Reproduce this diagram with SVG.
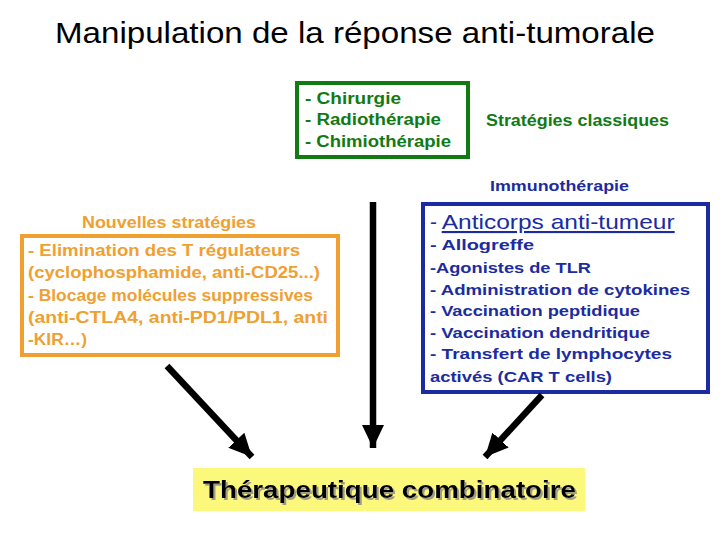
<svg xmlns="http://www.w3.org/2000/svg" width="720" height="540" viewBox="0 0 720 540">
<style>
text{font-family:"Liberation Sans",Arial,sans-serif;}
.t{font-size:30px;fill:#000;}
.g{font-size:16px;font-weight:bold;fill:#127a12;}
.o{font-size:16px;font-weight:bold;fill:#f0a030;}
.b{font-size:15.5px;font-weight:bold;fill:#1c2ca0;}
.bl{font-size:21px;fill:#1c2ca0;}
.y{font-size:24px;font-weight:bold;fill:#000;filter:url(#sh);}
.conn{stroke:#000;stroke-width:6.5;fill:none;marker-end:url(#ah);}
</style>
<defs>
<marker id="ah" markerUnits="userSpaceOnUse" markerWidth="26" markerHeight="26" viewBox="0 0 26 26" refX="23" refY="13" orient="auto">
<path d="M0,2 L23,13 L0,24 Z" fill="#000"/>
</marker>
<filter id="sh" x="-5%" y="-20%" width="110%" height="150%">
<feDropShadow dx="2" dy="2" stdDeviation="0.6" flood-color="#888" flood-opacity="0.8"/>
</filter>
</defs>
<rect width="720" height="540" fill="#fff"/>
<g id="title">
<text class="t" x="55" y="43" textLength="600" lengthAdjust="spacingAndGlyphs">Manipulation de la réponse anti-tumorale</text>
</g>
<g id="classique">
<rect x="297" y="83" width="171" height="74" fill="none" stroke="#127a12" stroke-width="4"/>
<text class="g" x="305" y="104" textLength="96" lengthAdjust="spacingAndGlyphs">- Chirurgie</text>
<text class="g" x="305" y="125" textLength="136" lengthAdjust="spacingAndGlyphs">- Radiothérapie</text>
<text class="g" x="305" y="147" textLength="146" lengthAdjust="spacingAndGlyphs">- Chimiothérapie</text>
</g>
<g id="label-classiques">
<text class="g" x="486" y="126" textLength="183" lengthAdjust="spacingAndGlyphs">Stratégies classiques</text>
</g>
<g id="label-immuno">
<text class="b" x="490" y="191" textLength="139" lengthAdjust="spacingAndGlyphs">Immunothérapie</text>
</g>
<g id="nouvelles">
<text class="o" x="82" y="228" textLength="174" lengthAdjust="spacingAndGlyphs">Nouvelles stratégies</text>
<rect x="22" y="236" width="316" height="119" fill="none" stroke="#f0a030" stroke-width="4"/>
<text class="o" x="28" y="256" textLength="272" lengthAdjust="spacingAndGlyphs">- Elimination des T régulateurs</text>
<text class="o" x="28" y="278" textLength="292" lengthAdjust="spacingAndGlyphs">(cyclophosphamide, anti-CD25...)</text>
<text class="o" x="28" y="301" textLength="285" lengthAdjust="spacingAndGlyphs">- Blocage molécules suppressives</text>
<text class="o" x="28" y="323" textLength="300" lengthAdjust="spacingAndGlyphs">(anti-CTLA4, anti-PD1/PDL1, anti</text>
<text class="o" x="28" y="345" textLength="59" lengthAdjust="spacingAndGlyphs">-KIR…)</text>
</g>
<g id="immuno">
<rect x="423" y="204" width="285" height="188" fill="none" stroke="#1c2ca0" stroke-width="4"/>
<text class="bl" x="430" y="229">- <tspan text-decoration="underline" textLength="233" lengthAdjust="spacingAndGlyphs">Anticorps anti-tumeur</tspan></text>
<text class="b" x="430" y="250" textLength="104" lengthAdjust="spacingAndGlyphs">- Allogreffe</text>
<text class="b" x="430" y="273" textLength="161" lengthAdjust="spacingAndGlyphs">-Agonistes de TLR</text>
<text class="b" x="430" y="295" textLength="260" lengthAdjust="spacingAndGlyphs">- Administration de cytokines</text>
<text class="b" x="430" y="316" textLength="210" lengthAdjust="spacingAndGlyphs">- Vaccination peptidique</text>
<text class="b" x="430" y="338" textLength="220" lengthAdjust="spacingAndGlyphs">- Vaccination dendritique</text>
<text class="b" x="430" y="359" textLength="242" lengthAdjust="spacingAndGlyphs">- Transfert de lymphocytes</text>
<text class="b" x="430" y="382" textLength="182" lengthAdjust="spacingAndGlyphs">activés (CAR T cells)</text>
</g>
<g id="combinatoire">
<rect x="193" y="468" width="392" height="43" fill="#fcf87c"/>
<text class="y" x="203" y="498" textLength="373" lengthAdjust="spacingAndGlyphs">Thérapeutique combinatoire</text>
</g>
<g id="connectors">
<line class="conn" x1="373" y1="202" x2="373" y2="448"/>
<line class="conn" x1="167" y1="366" x2="252" y2="457"/>
<line class="conn" x1="542" y1="395" x2="485" y2="457"/>
</g>
</svg>
